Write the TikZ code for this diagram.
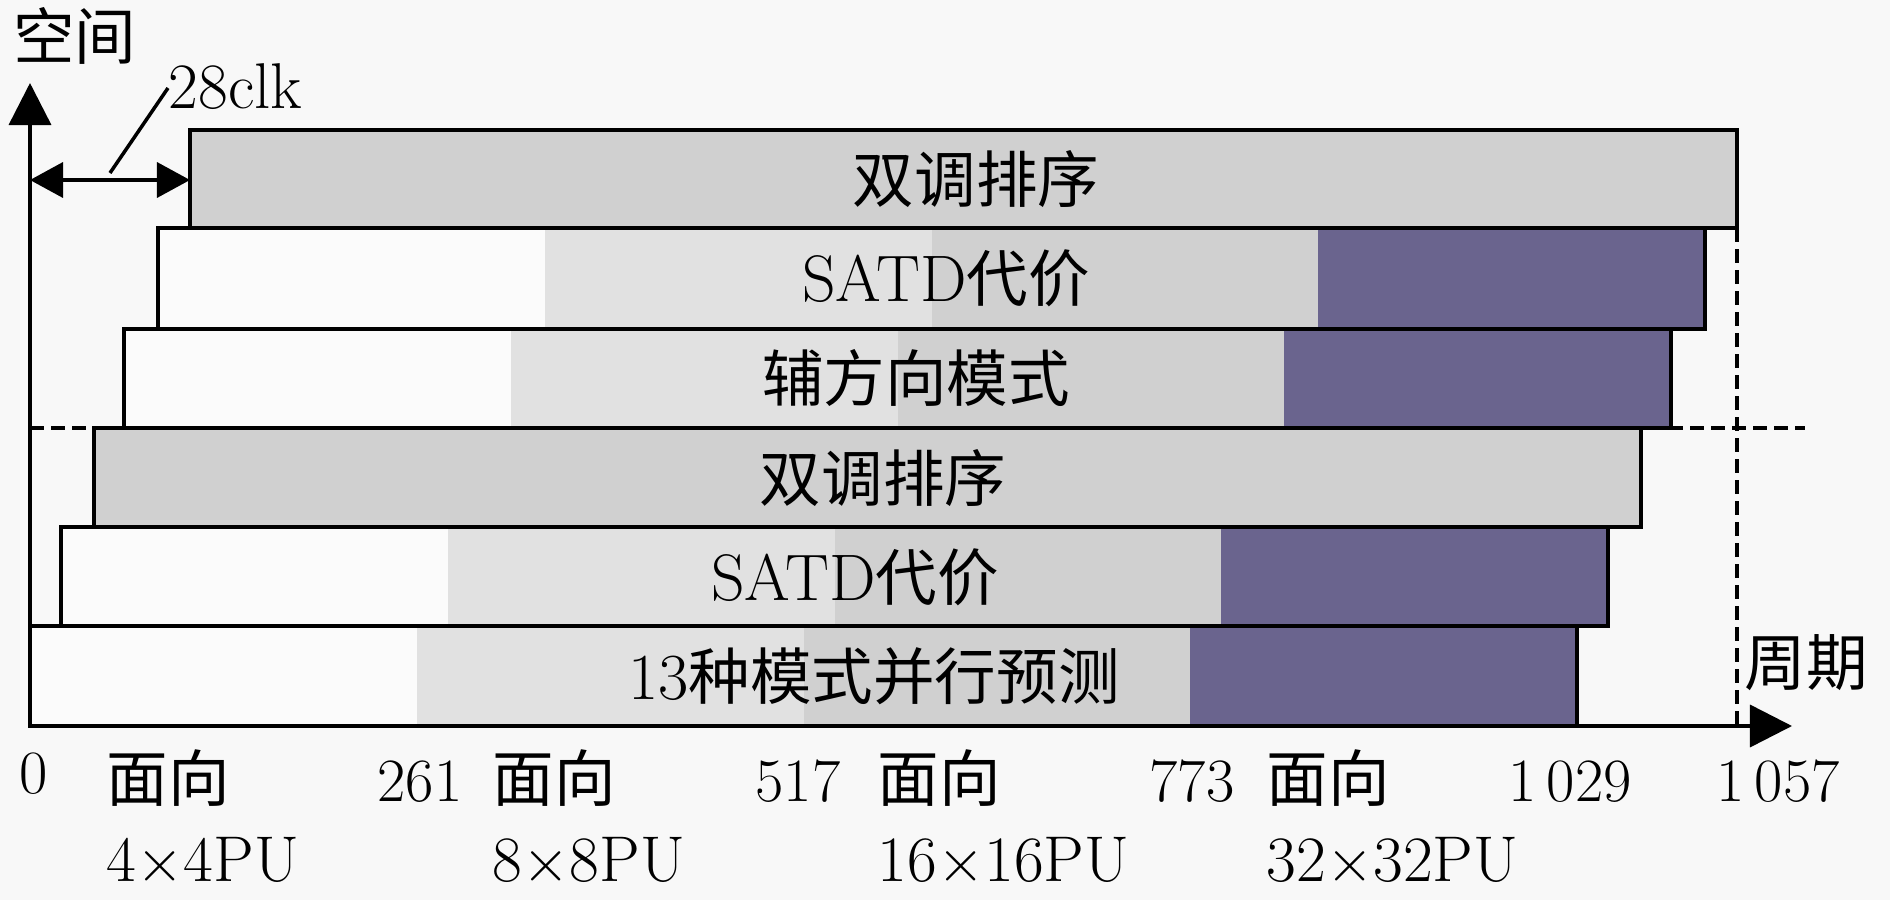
\documentclass[tikz,border=0pt]{standalone}
\usepackage{fontspec}
\newfontfamily\cjk{Noto Sans CJK SC}
\usetikzlibrary{arrows.meta}
\definecolor{bg}{HTML}{F8F8F8}
\definecolor{segw}{HTML}{FBFBFB}
\definecolor{segl}{HTML}{E1E1E1}
\definecolor{segg}{HTML}{D0D0D0}
\definecolor{segp}{HTML}{6A648E}
\newcommand\cjkf{\fontsize{17.5}{20}\selectfont\cjk}
\begin{document}
\begin{tikzpicture}[x=0.01cm,y=-0.01cm,
  barline/.style={draw=black,line width=1pt},
  axisline/.style={line width=1pt,-{Triangle[length=0.42cm,width=0.42cm]}},
  dimline/.style={line width=1pt,{Triangle[length=0.33cm,width=0.35cm]}-{Triangle[length=0.33cm,width=0.35cm]}},
  dashline/.style={line width=0.9pt,dash pattern=on 0.14cm off 0.07cm},
  lbl/.style={inner sep=0pt,font=\fontsize{18.7}{21}\selectfont},
  tick/.style={inner sep=0pt,anchor=base,font=\fontsize{17.5}{20}\selectfont},
  tickw/.style={inner sep=0pt,anchor=base west,font=\fontsize{18.4}{21}\selectfont}]
\fill[bg] (0,0) rectangle (1890,900);
\useasboundingbox (0,0) rectangle (1890,900);
% dashed guide lines
\coordinate (hd1) at (30,428);
\coordinate (hd2) at (1805,428);
\coordinate (vd1) at (1737,228);
\coordinate (vd2) at (1737,726);
\draw[dashline] (hd1) -- (hd2);
\draw[dashline] (vd1) -- (vd2);
% plain gray bars
\foreach \x/\t/\b in {190/130/228,94/428/527}{
  \fill[segg] (\x,\t) rectangle (\x+1547,\b);
  \draw[barline] (\x,\t) rectangle (\x+1547,\b);
}
% segmented bars
\foreach \x/\t/\b in {158/228/329,124/329/428,61/527/626,30/626/726}{
  \fill[segw] (\x,\t) rectangle (\x+386.75,\b);
  \fill[segl] (\x+386.75,\t) rectangle (\x+773.5,\b);
  \fill[segg] (\x+773.5,\t) rectangle (\x+1160.25,\b);
  \fill[segp] (\x+1160.25,\t) rectangle (\x+1547,\b);
  \draw[barline] (\x,\t) rectangle (\x+1547,\b);
}
% bar labels
\node[lbl] (b1) at (976,179) {\cjkf 双调排序};
\node[lbl] (b2) at (946,278) {SATD\cjkf 代价};
\node[lbl] (b3) at (916,378) {\cjkf 辅方向模式};
\node[lbl] (b4) at (883,478) {\cjkf 双调排序};
\node[lbl] (b5) at (855,577) {SATD\cjkf 代价};
\node[lbl] (b6) at (874,676) {13\cjkf 种模式并行预测};
% axes
\coordinate (O) at (30,726);
\coordinate (Yt) at (30,83);
\coordinate (Xt) at (1792,726);
\draw[axisline] (O) -- (Yt);
\draw[axisline] (O) -- (Xt);
\node[lbl] (ylab) at (75,36) {\cjkf 空间};
\node[lbl] (xlab) at (1806,663) {\cjkf 周期};
% 28clk
\coordinate (dA) at (30,180);
\coordinate (dB) at (190,180);
\draw[dimline] (dA) -- (dB);
\coordinate (p1) at (110,173);
\coordinate (p2) at (168,88);
\draw[line width=1pt] (p1) -- (p2);
\node[tickw] (clk) at (168,108) {28clk};
% tick labels row 1
\node[tick] (t0) at (34,793) {0};
\node[tick] (t1) at (420,801) {261};
\node[tick] (t2) at (798,801) {517};
\node[tick] (t3) at (1192,801) {773};
\node[tick] (t4) at (1570,801) {1\,029};
\node[tick] (t5) at (1778,801) {1\,057};
\node[tickw] (f1) at (106,801) {\cjkf 面向};
\node[tickw] (f2) at (492,801) {\cjkf 面向};
\node[tickw] (f3) at (877,801) {\cjkf 面向};
\node[tickw] (f4) at (1266,801) {\cjkf 面向};
% row 2
\node[tickw] (s1) at (106,881) {4$\times$4PU};
\node[tickw] (s2) at (492,881) {8$\times$8PU};
\node[tickw] (s3) at (877,881) {16$\times$16PU};
\node[tickw] (s4) at (1266,881) {32$\times$32PU};
\end{tikzpicture}
\end{document}
